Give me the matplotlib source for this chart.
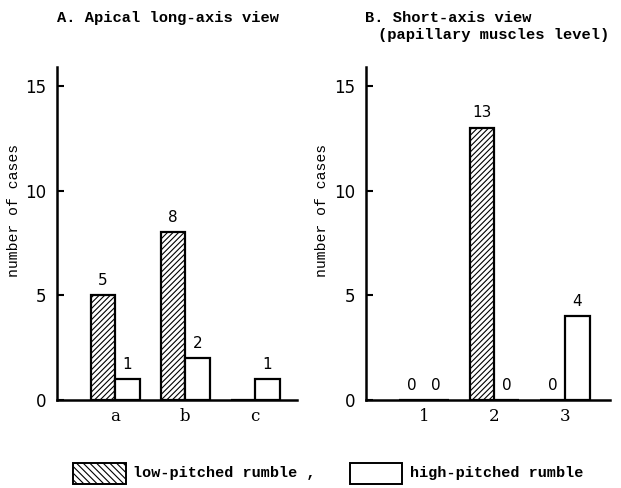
import matplotlib.pyplot as plt
import matplotlib.patches as mpatches
import numpy as np

plt.rcParams['hatch.linewidth'] = 0.8

# Data
cats_a = ["a", "b", "c"]
low_a = [5, 8, 0]
high_a = [1, 2, 1]

cats_b = ["1", "2", "3"]
low_b = [0, 13, 0]
high_b = [0, 0, 4]

mono = "Liberation Mono"
fig = plt.figure(figsize=(6.21, 4.88), dpi=100)
W, H = 621, 488


def add_ax(x0, x1, y0, y1):
    return fig.add_axes([x0 / W, 1 - y1 / H, (x1 - x0) / W, (y1 - y0) / H])


def draw(ax, cats, low, high, xl, show_zero=True):
    x = np.arange(len(cats))
    w = 0.35
    ax.bar(x - w / 2, low, w, facecolor="white", edgecolor="black",
           hatch="//////", linewidth=1.6)
    ax.bar(x + w / 2, high, w, facecolor="white", edgecolor="black",
           linewidth=1.6)
    for xi, v in zip(x, low):
        if v > 0 or show_zero:
            ax.text(xi - w / 2, v + 0.35, str(v), ha="center", va="bottom",
                    fontsize=11)
    for xi, v in zip(x, high):
        if v > 0 or show_zero:
            ax.text(xi + w / 2, v + 0.35, str(v), ha="center", va="bottom",
                    fontsize=11)
    ax.set_xlim(*xl)
    ax.set_ylim(0, 15.9)
    ax.set_yticks([0, 5, 10, 15])
    ax.set_xticks(x)
    ax.set_xticklabels(cats, fontsize=12, family="DejaVu Serif")
    ax.tick_params(axis="y", labelsize=12, length=5, width=1.5, direction="in",
                   pad=8)
    ax.tick_params(axis="x", length=0, pad=6)
    for s in ["top", "right"]:
        ax.spines[s].set_visible(False)
    for s in ["left", "bottom"]:
        ax.spines[s].set_linewidth(1.8)
    ax.set_ylabel("number of cases", family=mono, fontsize=10.6)
    ax.yaxis.set_label_coords(-0.15, 0.568)


ax1 = add_ax(57, 297, 67, 400)
draw(ax1, cats_a, low_a, high_a, (-0.83, 2.6), show_zero=False)
ax1.bar(2 - 0.175, 0.05, 0.35, color="black")

ax2 = add_ax(366, 610, 67, 400)
draw(ax2, cats_b, low_b, high_b, (-0.82, 2.64))
for xi, v in zip(range(3), low_b):
    if v == 0:
        ax2.bar(xi - 0.175, 0.06, 0.35, color="black")
for xi, v in zip(range(3), high_b):
    if v == 0:
        ax2.bar(xi + 0.175, 0.06, 0.35, color="black")

fig.text(57 / W, 1 - 18 / H, "A. Apical long-axis view", family=mono,
         fontsize=11.1, fontweight="bold", va="center")
fig.text(365 / W, 1 - 18 / H, "B. Short-axis view", family=mono,
         fontsize=11.1, fontweight="bold", va="center")
fig.text(378 / W, 1 - 35 / H, "(papillary muscles level)", family=mono,
         fontsize=11.1, fontweight="bold", va="center")

# Legend
fig.patches.append(mpatches.Rectangle((73 / W, 1 - 484 / H), 53 / W, 21 / H,
                                      transform=fig.transFigure, facecolor="white",
                                      edgecolor="black", hatch="\\\\\\\\\\", linewidth=1.4))
fig.text(133 / W, 1 - 473 / H, "low-pitched rumble ,", family=mono,
         fontsize=10.9, fontweight="bold", va="center")
fig.patches.append(mpatches.Rectangle((350 / W, 1 - 484 / H), 52 / W, 21 / H,
                                      transform=fig.transFigure, facecolor="white",
                                      edgecolor="black", linewidth=1.4))
fig.text(410 / W, 1 - 473 / H, "high-pitched rumble", family=mono,
         fontsize=10.9, fontweight="bold", va="center")

fig.savefig("out.png", dpi=100)
